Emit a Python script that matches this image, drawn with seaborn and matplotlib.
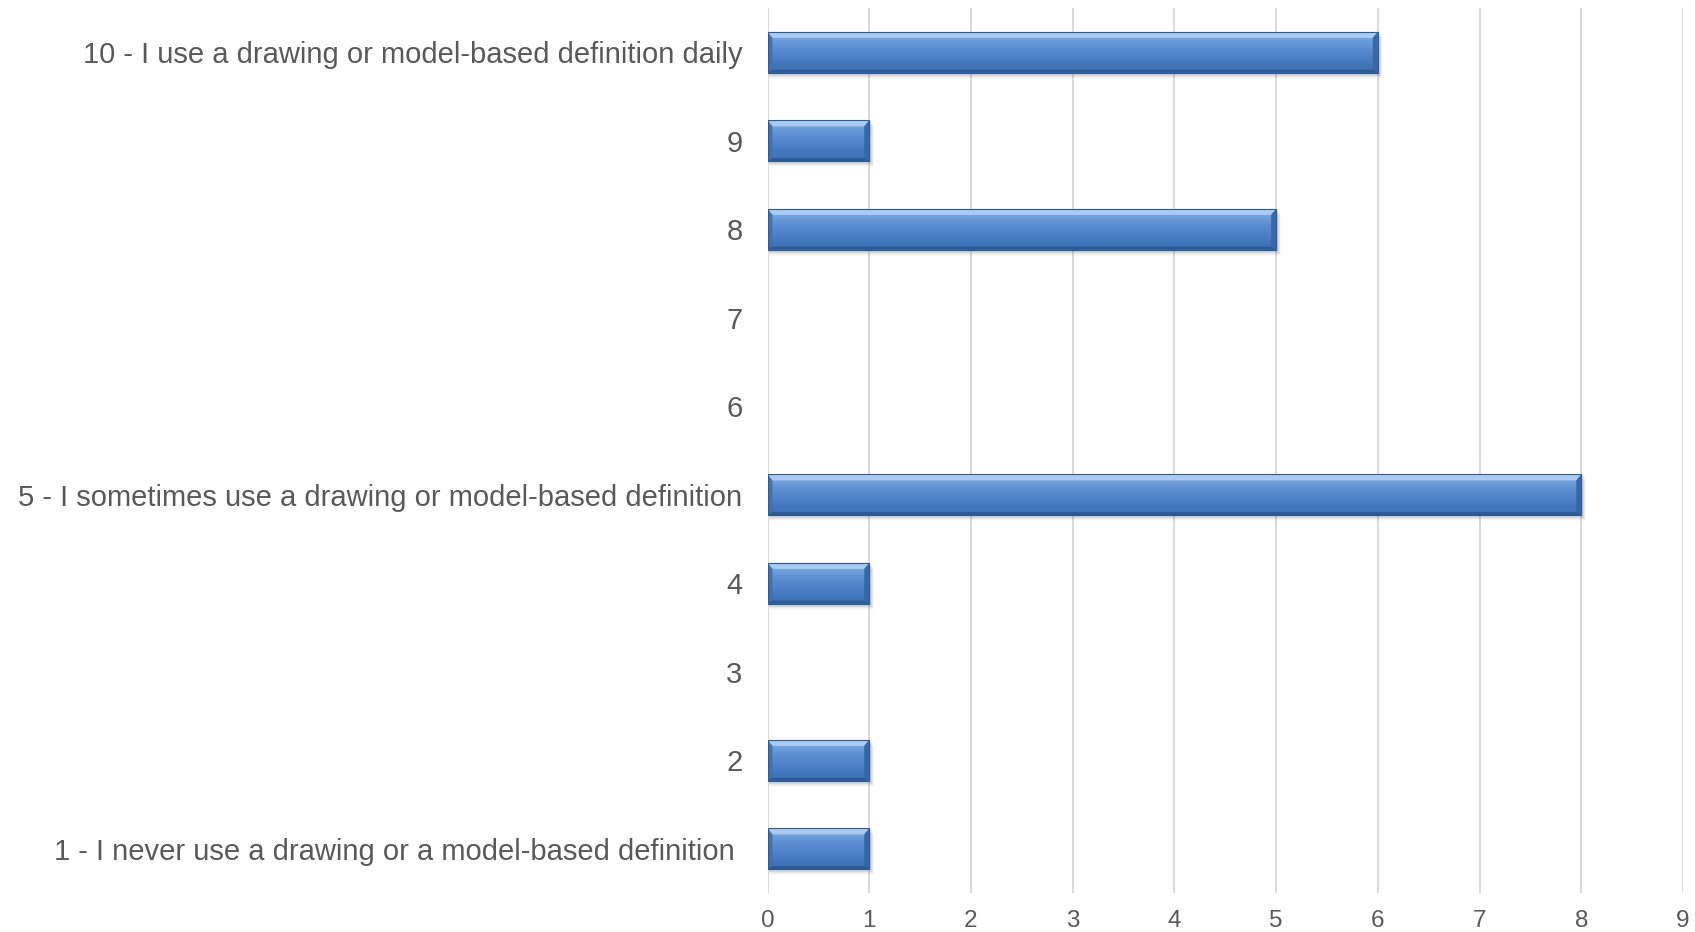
import matplotlib
matplotlib.use("Agg")
import matplotlib.pyplot as plt
import matplotlib.colors as mcolors
from matplotlib.patches import Polygon, Rectangle
import numpy as np
import pandas as pd
import seaborn as sns

# Survey responses: how often a drawing or model-based definition is used
categories = [
    "10 - I use a drawing or model-based definition daily",
    "9",
    "8",
    "7",
    "6",
    "5 - I sometimes use a drawing or model-based definition",
    "4",
    "3",
    "2",
    "1 - I never use a drawing or a model-based definition ",
]
counts = [6, 1, 5, 0, 0, 8, 1, 0, 1, 1]
x_ticks = list(range(0, 10))

df = pd.DataFrame({"category": categories, "count": counts})

sns.set_theme(style="white")
plt.rcParams["font.family"] = ["Liberation Sans", "DejaVu Sans"]

W, H, DPI = 1695, 932, 100
fig = plt.figure(figsize=(W / DPI, H / DPI), dpi=DPI)
ax = fig.add_axes([767.5 / W, 1 - 893 / H, (1683 - 767.5) / W, (893 - 8) / H])

base = "#4F81BD"
sns.barplot(data=df, y="category", x="count", orient="h", color=base,
            width=0.46, ax=ax, saturation=1, order=categories)

ax.set_xlim(0, 9)
ax.set_ylim(len(categories) - 0.5, -0.5)
ax.set_xticks(x_ticks)
ax.set_xlabel("")
ax.set_ylabel("")
for s in ax.spines.values():
    s.set_visible(False)
ax.grid(axis="x", color="#D9D9D9", linewidth=1.4)
ax.grid(axis="y", visible=False)
ax.set_axisbelow(True)
ax.tick_params(axis="both", length=0)
ax.tick_params(axis="y", pad=18, labelsize=21, labelcolor="#595959")
ax.tick_params(axis="x", pad=12, labelsize=17.5, labelcolor="#595959")

# pixel -> data unit helpers
px_x = 9 / (1683 - 767.5)
px_y = 10 / (893 - 8)

# bevelled 3D look for each bar
grad_cmap = mcolors.LinearSegmentedColormap.from_list(
    "bar", ["#8DB8EC", "#6C9DDB", "#5A8CD0", "#4F82C6", "#4377BC", "#3D6FB2"])
for p in list(ax.patches):
    w = p.get_width()
    if w <= 0:
        p.set_visible(False)
        continue
    x0, y0 = p.get_x(), p.get_y()
    h = p.get_height()
    # soft shadow below and right
    for k, a in zip(range(1, 7), [0.10, 0.08, 0.06, 0.045, 0.03, 0.02]):
        ax.add_patch(Rectangle((x0 + px_x * 1, y0 + px_y * k), w + px_x * (k * 0.6), h,
                               facecolor="#000000", alpha=a, edgecolor="none", zorder=1.5))
    p.set_zorder(2)
    # vertical gradient body
    grad = np.linspace(0, 1, 64).reshape(-1, 1)
    im = ax.imshow(grad, cmap=grad_cmap, aspect="auto",
                   extent=(x0, x0 + w, y0 + h, y0), zorder=2.1, interpolation="bilinear")
    im.set_clip_path(p)
    bx, by = 5 * px_x, 6 * px_y
    # top bevel (light)
    ax.add_patch(Polygon([(x0, y0), (x0 + w, y0), (x0 + w - bx, y0 + by), (x0 + bx, y0 + by)],
                         closed=True, facecolor="#A9CBF2", edgecolor="none", zorder=2.2))
    # left bevel
    ax.add_patch(Polygon([(x0, y0), (x0 + bx, y0 + by), (x0 + bx, y0 + h - by * 0.5), (x0, y0 + h)],
                         closed=True, facecolor="#3F70B0", edgecolor="none", zorder=2.2, alpha=0.9))
    # right bevel
    ax.add_patch(Polygon([(x0 + w, y0), (x0 + w, y0 + h), (x0 + w - bx, y0 + h - by * 0.5), (x0 + w - bx, y0 + by)],
                         closed=True, facecolor="#3A67A3", edgecolor="none", zorder=2.2))
    # bottom bevel (dark)
    ax.add_patch(Polygon([(x0, y0 + h), (x0 + w, y0 + h), (x0 + w - bx, y0 + h - by * 0.5), (x0 + bx, y0 + h - by * 0.5)],
                         closed=True, facecolor="#2D5A92", edgecolor="none", zorder=2.2))
    p.set_facecolor("none")
    ax.add_patch(Rectangle((x0, y0), w, h, facecolor="none", edgecolor="#2F5B8E",
                           linewidth=0.8, zorder=2.3))

fig.savefig("out.png", dpi=DPI, facecolor="white")
